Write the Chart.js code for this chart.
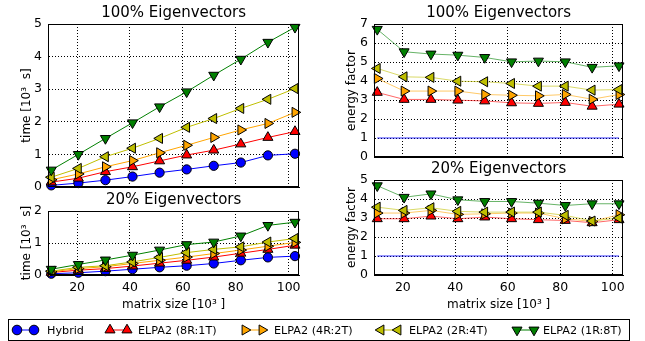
<!DOCTYPE html>
<html>
<head>
<meta charset="utf-8">
<script src="https://cdn.jsdelivr.net/npm/chart.js@4/dist/chart.umd.min.js"></script>
<style>
  body { margin: 0; background: #fff; font-family: "DejaVu Sans", sans-serif; }
  #wrap { position: relative; width: 645px; height: 341px; overflow: hidden; }
  #wrap canvas { position: absolute; }
  #legend {
    position: absolute; left: 8px; top: 319px; width: 620px; height: 20px;
    border: 1px solid #000; font-size: 11.2px; color: #000;
  }
  #legend .item { position: absolute; top: 0; height: 20px; display: flex; align-items: center; white-space: nowrap; }
</style>
</head>
<body>
<div id="wrap">
  <canvas id="timeAll" width="306" height="201" style="left:0;top:0"></canvas>
  <canvas id="timeSome" width="306" height="125" style="left:0;top:187px"></canvas>
  <canvas id="energyAll" width="300" height="171" style="left:330px;top:0"></canvas>
  <canvas id="energySome" width="300" height="156" style="left:330px;top:156px"></canvas>
  <div id="legend"></div>
</div>
<script>
// matrix size in units of 10^3
const sizes = [10.24, 20.48, 30.72, 40.96, 51.2, 61.44, 71.68, 81.92, 92.16, 102.4];
const xTicks = [20, 40, 60, 80, 100];

const seriesNames = ["Hybrid", "ELPA2 (8R:1T)", "ELPA2 (4R:2T)", "ELPA2 (2R:4T)", "ELPA2 (1R:8T)"];

// time [10^3 s], 100% eigenvectors
const timeAllHybrid = [0.05, 0.12, 0.21, 0.32, 0.44, 0.54, 0.65, 0.75, 0.97, 1.02];
const timeAll8R1T = [0.15, 0.27, 0.47, 0.62, 0.8, 0.98, 1.13, 1.32, 1.52, 1.7];
const timeAll4R2T = [0.22, 0.4, 0.62, 0.81, 1.05, 1.28, 1.52, 1.75, 1.95, 2.29];
const timeAll2R4T = [0.3, 0.57, 0.93, 1.19, 1.49, 1.83, 2.1, 2.41, 2.69, 3.02];
const timeAll1R8T = [0.52, 1.0, 1.49, 1.97, 2.46, 2.92, 3.43, 3.92, 4.44, 4.9];

// time [10^3 s], 20% eigenvectors
const timeSomeHybrid = [0.04, 0.07, 0.12, 0.18, 0.24, 0.29, 0.36, 0.46, 0.55, 0.59];
const timeSome8R1T = [0.08, 0.15, 0.2, 0.28, 0.37, 0.46, 0.56, 0.68, 0.8, 0.93];
const timeSome4R2T = [0.1, 0.2, 0.26, 0.36, 0.46, 0.56, 0.67, 0.78, 0.9, 1.02];
const timeSome2R4T = [0.12, 0.24, 0.29, 0.41, 0.55, 0.7, 0.8, 0.88, 1.03, 1.14];
const timeSome1R8T = [0.18, 0.33, 0.47, 0.62, 0.78, 0.95, 1.03, 1.22, 1.55, 1.65];

// energy factor, 100% eigenvectors
const energyAllHybrid = [1, 1, 1, 1, 1, 1, 1, 1, 1, 1];
const energyAll8R1T = [3.4, 3.03, 3.03, 2.99, 2.95, 2.85, 2.82, 2.87, 2.67, 2.78];
const energyAll4R2T = [4.13, 3.47, 3.47, 3.47, 3.29, 3.25, 3.22, 3.29, 3.04, 3.29];
const energyAll2R4T = [4.66, 4.22, 4.19, 3.99, 3.96, 3.87, 3.73, 3.73, 3.52, 3.55];
const energyAll1R8T = [6.72, 5.54, 5.42, 5.36, 5.24, 5.01, 5.05, 5.01, 4.72, 4.8];

// energy factor, 20% eigenvectors
const energySomeHybrid = [1, 1, 1, 1, 1, 1, 1, 1, 1, 1];
const energySome8R1T = [2.96, 2.96, 3.1, 2.96, 3.05, 2.96, 2.91, 2.87, 2.75, 2.91];
const energySome4R2T = [3.26, 3.26, 3.4, 3.19, 3.22, 3.26, 3.26, 2.96, 2.82, 3.17];
const energySome2R4T = [3.57, 3.4, 3.54, 3.35, 3.31, 3.31, 3.31, 3.14, 2.84, 3.0];
const energySome1R8T = [4.7, 4.09, 4.27, 3.96, 3.87, 3.87, 3.78, 3.66, 3.75, 3.75];

const colors = ["#0000ff", "#ff0000", "#ffa500", "#bfbf00", "#008000"];
const fadedColors = ["rgba(0,0,255,0.8)", "rgba(255,0,0,0.6)", "rgba(255,165,0,0.6)", "rgba(191,191,0,0.6)", "rgba(0,128,0,0.6)"];
const markers = [
  { style: "circle", rot: 0 },
  { style: "triangle", rot: 0 },
  { style: "triangle", rot: 90 },
  { style: "triangle", rot: 270 },
  { style: "triangle", rot: 180 },
];

// draws the full box around the plot area like matplotlib spines
const frame = {
  id: "frame",
  afterDraw(chart) {
    const { ctx, chartArea: a } = chart;
    ctx.save();
    ctx.strokeStyle = "#000";
    ctx.lineWidth = 1;
    ctx.strokeRect(Math.round(a.left) + 0.5, Math.round(a.top) + 0.5,
      Math.round(a.right - a.left) - 1, Math.round(a.bottom - a.top) - 1);
    ctx.restore();
  },
};

function makeChart(id, series, opts) {
  const datasets = series.map((vals, i) => ({
    label: seriesNames[i],
    data: vals.map((v, k) => ({ x: sizes[k], y: v })),
    borderColor: opts.faded ? fadedColors[i] : colors[i],
    borderWidth: 1,
    backgroundColor: colors[i],
    pointBackgroundColor: colors[i],
    pointBorderColor: "#000",
    pointBorderWidth: 1,
    pointStyle: markers[i].style,
    rotation: markers[i].rot,
    pointRadius: opts.noHybridMarks && i === 0 ? 0 : (i === 0 ? 4.6 : 5.8),
    order: 4 - i,
    tension: 0,
    clip: 6,
  }));

  return new Chart(document.getElementById(id), {
    type: "line",
    data: { datasets },
    options: {
      responsive: false,
      animation: false,
      devicePixelRatio: 1,
      layout: { padding: { right: opts.padRight, left: 0, top: 0, bottom: 0 } },
      plugins: {
        legend: { display: false },
        tooltip: { enabled: false },
        title: {
          display: true,
          fullSize: false,
          text: opts.title,
          color: "#000",
          font: { family: "DejaVu Sans", size: 15, weight: "normal" },
          padding: { top: 4, bottom: 2 },
        },
      },
      scales: {
        x: {
          type: "linear",
          min: 9,
          max: 104,
          afterBuildTicks: (s) => { s.ticks = xTicks.map((v) => ({ value: v })); },
          afterFit: (s) => { s.height = opts.xHeight; },
          grid: { color: "#000", lineWidth: 1, drawTicks: false },
          border: { display: true, color: "#000", dash: [1, 2] },
          ticks: {
            display: opts.showX,
            autoSkip: false,
            color: "#000",
            padding: 5,
            font: { family: "DejaVu Sans", size: 12.5 },
            maxRotation: 0,
          },
          title: {
            display: opts.showX,
            text: "matrix size [10³ ]",
            color: "#000",
            font: { family: "DejaVu Sans", size: 12 },
            padding: { top: 0, bottom: 0 },
          },
        },
        y: {
          min: 0,
          max: opts.yMax,
          afterFit: (s) => { s.width = opts.yWidth; },
          grid: { color: "#000", lineWidth: 1, drawTicks: false },
          border: { display: true, color: "#000", dash: [1, 2] },
          ticks: {
            stepSize: 1,
            autoSkip: false,
            color: "#000",
            padding: 6,
            font: { family: "DejaVu Sans", size: 12.5 },
          },
          title: {
            display: true,
            text: opts.yLabel,
            color: "#000",
            font: { family: "DejaVu Sans", size: 12 },
            padding: { top: opts.yTitlePad, bottom: 0 },
          },
        },
      },
    },
    plugins: [frame],
  });
}

makeChart("timeAll",
  [timeAllHybrid, timeAll8R1T, timeAll4R2T, timeAll2R4T, timeAll1R8T],
  { title: "100% Eigenvectors", yLabel: "time [10³  s]", yMax: 5, yWidth: 48, yTitlePad: 20, xHeight: 14, showX: false, padRight: 6 });

makeChart("timeSome",
  [timeSomeHybrid, timeSome8R1T, timeSome4R2T, timeSome2R4T, timeSome1R8T],
  { title: "20% Eigenvectors", yLabel: "time [10³  s]", yMax: 2, yWidth: 48, yTitlePad: 20, xHeight: 37, showX: true, padRight: 6 });

makeChart("energyAll",
  [energyAllHybrid, energyAll8R1T, energyAll4R2T, energyAll2R4T, energyAll1R8T],
  { title: "100% Eigenvectors", yLabel: "energy factor", yMax: 7, yWidth: 44, yTitlePad: 15, xHeight: 14, showX: false, padRight: 4, faded: true, noHybridMarks: true });

makeChart("energySome",
  [energySomeHybrid, energySome8R1T, energySome4R2T, energySome2R4T, energySome1R8T],
  { title: "20% Eigenvectors", yLabel: "energy factor", yMax: 5, yWidth: 44, yTitlePad: 15, xHeight: 37, showX: true, padRight: 4, faded: true, noHybridMarks: true });

// legend: two markers joined by a line, then the label
const legendMarkX = [17, 110, 245, 381, 517];
const legendTextX = [47, 138, 274, 409, 543];
function markerSvg(i, cx, cy) {
  const c = colors[i];
  if (i === 0) return `<circle cx="${cx}" cy="${cy}" r="4.8" fill="${c}" stroke="#000" stroke-width="1"/>`;
  const r = 5.8;
  const pts = [[0, -r], [r * 0.87, r * 0.5], [-r * 0.87, r * 0.5]];
  const rad = markers[i].rot * Math.PI / 180;
  const p = pts.map(([x, y]) => [cx + x * Math.cos(rad) - y * Math.sin(rad), cy + x * Math.sin(rad) + y * Math.cos(rad)]);
  return `<polygon points="${p.map((q) => q.join(",")).join(" ")}" fill="${c}" stroke="#000" stroke-width="1"/>`;
}
const legend = document.getElementById("legend");
seriesNames.forEach((name, i) => {
  const left = legendMarkX[i] - 9 - 7;
  const w = legendTextX[i] - legendMarkX[i] + 7;
  const item = document.createElement("div");
  item.className = "item";
  item.style.left = left + "px";
  item.innerHTML = `<svg width="${w}" height="16" viewBox="0 0 ${w} 16">` +
    `<line x1="7" y1="8" x2="24" y2="8" stroke="${colors[i]}" stroke-width="1"/>` +
    markerSvg(i, 7, 8) + markerSvg(i, 24, 8) + `</svg><span>${name}</span>`;
  legend.appendChild(item);
});
</script>
</body>
</html>
